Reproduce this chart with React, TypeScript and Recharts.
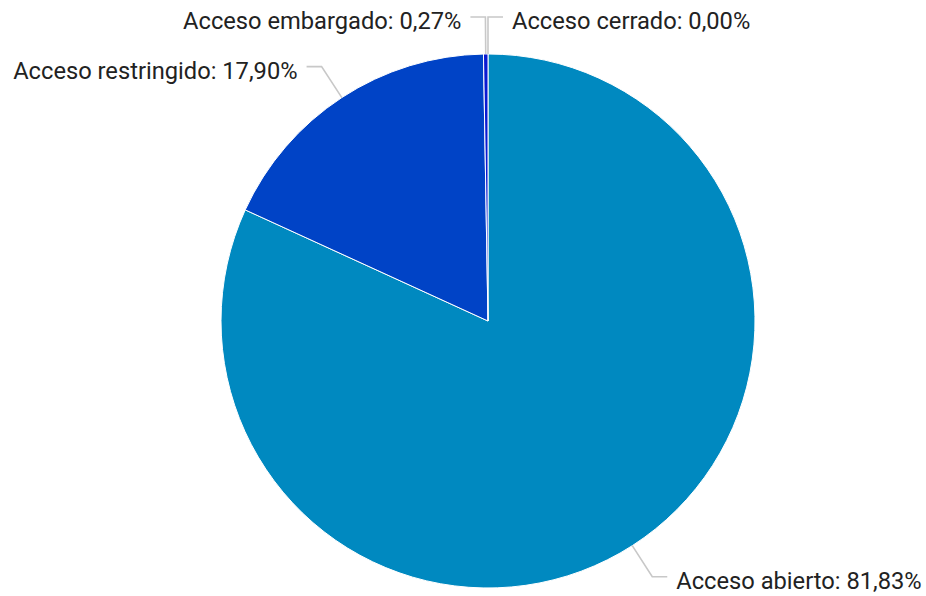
import React from 'react';
import { PieChart, Pie, Cell } from 'recharts';

const categories = ['Acceso abierto', 'Acceso restringido', 'Acceso embargado', 'Acceso cerrado'];
const values = [81.83, 17.9, 0.27, 0.0];
const colors = ['#0089C0', '#0043C6', '#0A1AD2', '#6C2BD9'];

const data = categories.map((name, i) => ({ name, value: values[i] }));

const RAD = Math.PI / 180;
const FONT = 23.7;

const renderLabel = (props: any) => {
  const { cx, cy, midAngle, outerRadius, name, value } = props;
  const cos = Math.cos(-midAngle * RAD);
  const sin = Math.sin(-midAngle * RAD);
  const sx = cx + outerRadius * cos;
  const sy = cy + outerRadius * sin;
  const er = outerRadius + 37;
  const ex = cx + er * cos;
  const ey = cy + er * sin;
  const right = cos >= -1e-9;
  const hx = ex + (right ? 15 : -15);
  const tx = hx + (right ? 9 : -9);
  const text = `${name}: ${Number(value).toFixed(2).replace('.', ',')}%`;
  return (
    <g>
      <polyline
        points={`${sx},${sy} ${ex},${ey} ${hx},${ey}`}
        fill="none"
        stroke="#c8c8c8"
        strokeWidth={1.6}
      />
      <text
        x={tx}
        y={ey + 12}
        textAnchor={right ? 'start' : 'end'}
        fill="#222222"
        fontSize={FONT}
        fontFamily="Roboto, sans-serif"
      >
        {text}
      </text>
    </g>
  );
};

export default function App() {
  return (
    <div style={{ position: 'absolute', left: 0, top: 0, background: '#fff' }}>
      <PieChart width={926} height={596} margin={{ top: 0, right: 0, bottom: 0, left: 0 }}>
        <Pie
          data={data}
          dataKey="value"
          nameKey="name"
          cx={488}
          cy={321}
          outerRadius={267}
          startAngle={90}
          endAngle={-270}
          stroke="#ffffff"
          strokeWidth={1}
          label={renderLabel}
          labelLine={false}
          isAnimationActive={false}
        >
          {data.map((d, i) => (
            <Cell key={d.name} fill={colors[i]} />
          ))}
        </Pie>
      </PieChart>
    </div>
  );
}
